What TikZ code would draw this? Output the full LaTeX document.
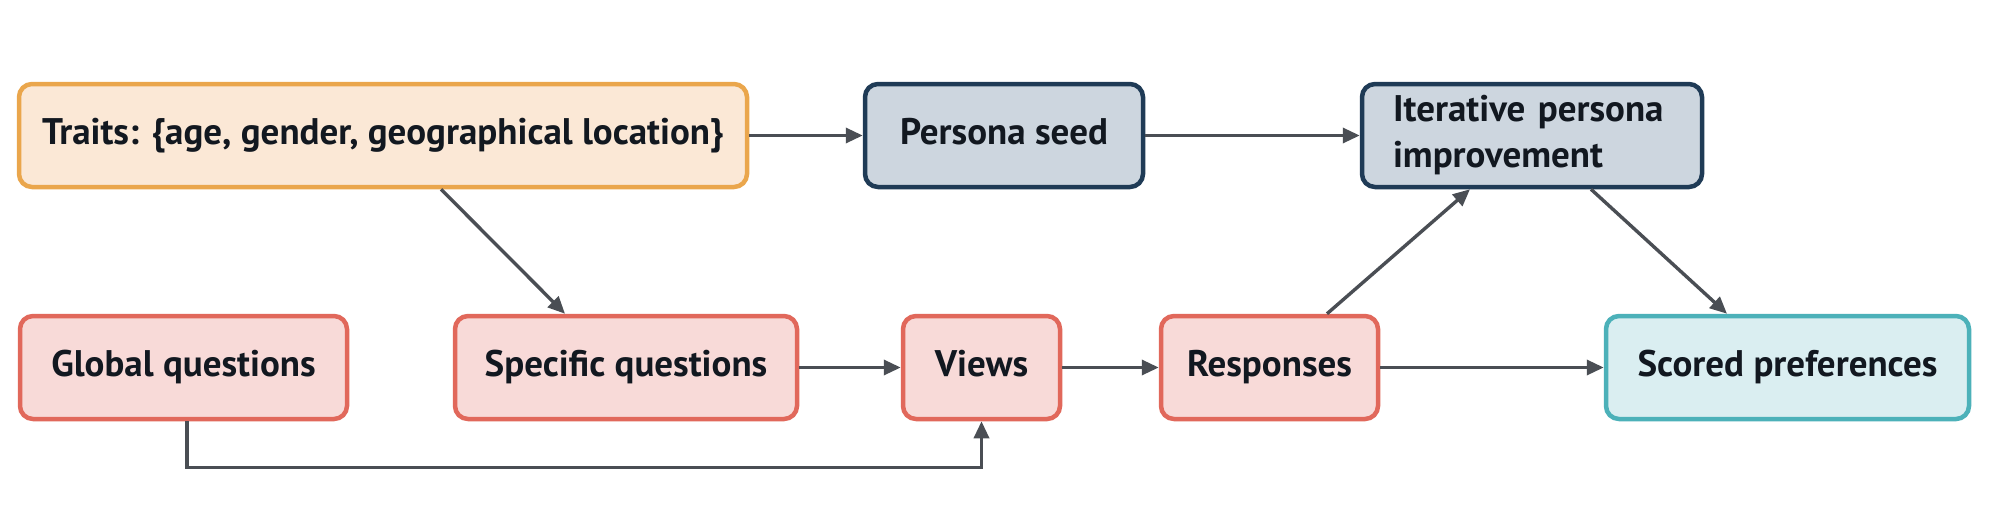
\documentclass[tikz,border=0pt]{standalone}
\usepackage{fontspec}
\setmainfont{PT Sans}
\usetikzlibrary{arrows.meta,calc}
\definecolor{trfill}{HTML}{FBE8D6}
\definecolor{trdraw}{HTML}{EAA64C}
\definecolor{psfill}{HTML}{CDD6DF}
\definecolor{psdraw}{HTML}{1F3B56}
\definecolor{rdfill}{HTML}{F8DAD8}
\definecolor{rddraw}{HTML}{E1685B}
\definecolor{scfill}{HTML}{DAEEF1}
\definecolor{scdraw}{HTML}{4CB1B9}
\definecolor{arr}{HTML}{4A4E54}
\definecolor{txt}{HTML}{121820}
\tikzset{
  box/.style={rounded corners=13pt, line width=4.5pt, minimum height=103pt,
    inner sep=0pt, font=\fontsize{37}{40}\selectfont\bfseries, text=txt},
  onel/.style={text height=27pt, text depth=9pt},
  traitbox/.style={box, onel, fill=trfill, draw=trdraw},
  personabox/.style={box, fill=psfill, draw=psdraw},
  qbox/.style={box, onel, fill=rdfill, draw=rddraw},
  scorebox/.style={box, onel, fill=scfill, draw=scdraw},
  flow/.style={draw=arr, line width=3.4pt, -{Triangle[length=17pt,width=15pt]}},
}
\begin{document}
\begin{tikzpicture}[x=1pt,y=-1pt]
\useasboundingbox (0,0) rectangle (1991,511);
\node[traitbox, minimum width=728pt] (traits) at (383,135.5) {Traits: \{age, gender, geographical location\}};
\node[personabox, onel, minimum width=278pt] (seed) at (1004,135.5) {Persona seed};
\node[personabox, minimum width=340pt, text width=278pt, align=left, font=\fontsize{37}{46}\selectfont\bfseries] (iter) at (1532,135.5) {Iterative persona\\improvement};
\node[qbox, minimum width=327pt] (global) at (183.5,367.5) {Global questions};
\node[qbox, minimum width=342pt] (specific) at (626,367.5) {Specific questions};
\node[qbox, minimum width=157pt] (views) at (981.5,367.5) {Views};
\node[qbox, minimum width=217pt] (resp) at (1269.5,367.5) {Responses};
\node[scorebox, minimum width=363pt] (scored) at (1787.5,367.5) {Scored preferences};

\draw[flow] (traits) -- (seed);
\draw[flow] (seed) -- (iter);
\draw[flow] ([xshift=58pt]traits.south) -- ([xshift=-61pt]specific.north);
\draw[flow] (specific) -- (views);
\draw[flow] (views) -- (resp);
\draw[flow] (resp) -- (scored);
\draw[flow] ([xshift=57.5pt]resp.north) -- ([xshift=-62pt]iter.south);
\draw[flow] ([xshift=59pt]iter.south) -- ([xshift=-60.5pt]scored.north);
\draw[flow] ([xshift=3.5pt]global.south) -- ($([xshift=3.5pt]global.south)+(0,46)$) -| (views.south);
\end{tikzpicture}
\end{document}
